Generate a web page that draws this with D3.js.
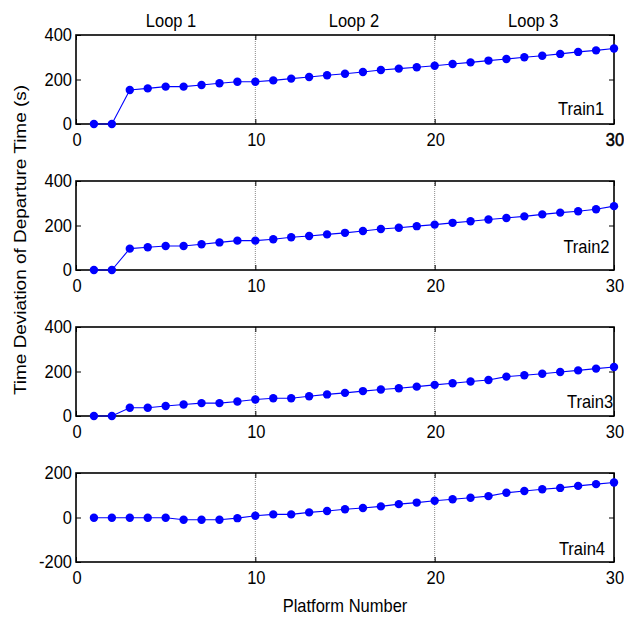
<!DOCTYPE html>
<html>
<head>
<meta charset="utf-8">
<script src="https://cdn.jsdelivr.net/npm/d3@7"></script>
<style>
  html, body { margin: 0; padding: 0; background: #fff; }
  text { font-family: "Liberation Sans", Arial, Helvetica, sans-serif; fill: #000; }
</style>
</head>
<body>
<svg id="chart" width="624" height="620"></svg>
<script>
// ---- data ----
const platforms = d3.range(1, 31);
const trainNames = ["Train1", "Train2", "Train3", "Train4"];
const train1 = [0, 0, 153, 160, 168, 168, 175, 183, 190, 190, 196, 204, 211, 219, 226, 234, 243, 249, 255, 262, 270, 277, 285, 292, 300, 307, 315, 324, 331, 339];
const train2 = [0, 0, 96, 102, 108, 108, 116, 124, 132, 132, 138, 147, 153, 160, 167, 175, 184, 190, 197, 204, 212, 219, 227, 234, 241, 250, 258, 264, 273, 287];
const train3 = [0, 0, 37, 37, 45, 52, 58, 58, 65, 74, 80, 80, 89, 97, 104, 112, 119, 125, 132, 140, 147, 155, 162, 177, 183, 190, 198, 205, 213, 220];
const train4 = [-1, -1, -1, -1, -1, -10, -10, -10, -3, 8, 14, 14, 23, 29, 37, 43, 50, 60, 67, 75, 82, 89, 96, 111, 119, 127, 133, 142, 150, 157];
const seriesValues = [train1, train2, train3, train4];
const yDomains = [[0, 400], [0, 400], [0, 400], [-200, 200]];
const yTicks = [[0, 200, 400], [0, 200, 400], [0, 200, 400], [-200, 0, 200]];
const xDomain = [0, 30];
const xTicks = [0, 10, 20, 30];
const gridX = [10, 20];
const loopLabels = ["Loop 1", "Loop 2", "Loop 3"];
const loopCenters = [5.3, 15.5, 25.5];
const xAxisTitle = "Platform Number";
const yAxisTitle = "Time Deviation of Departure Time (s)";

// ---- layout ----
const svg = d3.select("#chart");
const left = 76, right = 614;
const panelTops = [35, 181, 327, 473];
const panelH = 89;
const fs = 16.5, vs = 1.15;  // font size, vertical stretch of glyphs
const blue = "#0000ff";

const x = d3.scaleLinear().domain(xDomain).range([left, right]);

function stretchedText(g, tx, ty, str, anchor) {
  return g.append("text")
    .attr("transform", `translate(${tx},${ty}) scale(1,${vs})`)
    .attr("text-anchor", anchor)
    .attr("font-size", fs)
    .text(str);
}

// label anchors in data units (x) and fraction of panel height from bottom
const trainLabelX = [29.45, 29.75, 29.95, 29.5];
const trainLabelFrac = [0.17, 0.26, 0.16, 0.15];

seriesValues.forEach((vals, i) => {
  const top = panelTops[i], bottom = top + panelH;
  const y = d3.scaleLinear().domain(yDomains[i]).range([bottom, top]);
  const g = svg.append("g");

  // grid lines
  g.selectAll("line.grid").data(gridX).enter().append("line")
    .attr("x1", d => x(d)).attr("x2", d => x(d))
    .attr("y1", top).attr("y2", bottom)
    .attr("stroke", "#8a8a8a").attr("stroke-width", 1)
    .attr("stroke-dasharray", "1,1");

  // box
  g.append("rect")
    .attr("x", left).attr("y", top)
    .attr("width", right - left).attr("height", panelH)
    .attr("fill", "none").attr("stroke", "#000").attr("stroke-width", 1.6);

  // axes (inward ticks on all sides)
  const tl = 5;
  g.append("g").attr("transform", `translate(0,${bottom})`)
    .call(d3.axisTop(x).tickValues(xTicks).tickSize(tl).tickFormat(""))
    .call(s => s.select(".domain").remove());
  g.append("g").attr("transform", `translate(0,${top})`)
    .call(d3.axisBottom(x).tickValues(xTicks).tickSize(tl).tickFormat(""))
    .call(s => s.select(".domain").remove());
  g.append("g").attr("transform", `translate(${left},0)`)
    .call(d3.axisRight(y).tickValues(yTicks[i]).tickSize(tl).tickFormat(""))
    .call(s => s.select(".domain").remove());
  g.append("g").attr("transform", `translate(${right},0)`)
    .call(d3.axisLeft(y).tickValues(yTicks[i]).tickSize(tl).tickFormat(""))
    .call(s => s.select(".domain").remove());
  g.selectAll(".tick line").attr("stroke", "#000").attr("stroke-width", 1);

  // tick labels
  yTicks[i].forEach(t => stretchedText(g, left - 4, y(t) + 6, String(t), "end"));
  xTicks.forEach((t, k) => {
    const lab = stretchedText(g, x(t) + 1, bottom + 22, String(t), "middle");
    if (i === 0 && k === xTicks.length - 1) lab.attr("stroke", "#000").attr("stroke-width", 0.45);
  });

  // line + markers
  const line = d3.line().x((d, k) => x(platforms[k])).y(d => y(d));
  g.append("path").datum(vals)
    .attr("d", line).attr("fill", "none")
    .attr("stroke", blue).attr("stroke-width", 1.1);
  g.selectAll("circle").data(vals).enter().append("circle")
    .attr("cx", (d, k) => x(platforms[k])).attr("cy", d => y(d))
    .attr("r", 4.2).attr("fill", blue);

  // train label
  stretchedText(g, x(trainLabelX[i]), bottom - panelH * trainLabelFrac[i] + 6, trainNames[i], "end");
});

// loop labels
loopLabels.forEach((l, k) => stretchedText(svg, x(loopCenters[k]), 27, l, "middle"));

// axis titles
stretchedText(svg, 345, 612, xAxisTitle, "middle");
svg.append("text")
  .attr("transform", `translate(26,240) rotate(-90) scale(${vs},1)`)
  .attr("text-anchor", "middle")
  .attr("font-size", fs)
  .text(yAxisTitle);
</script>
</body>
</html>
